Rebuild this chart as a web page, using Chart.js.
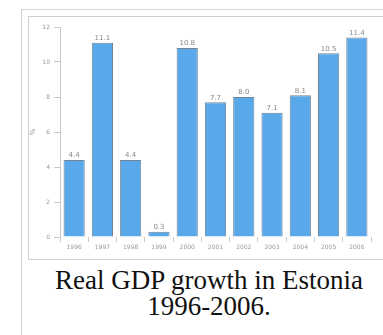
<!DOCTYPE html>
<html>
<head>
<meta charset="utf-8">
<script src="https://cdn.jsdelivr.net/npm/chart.js@4/dist/chart.umd.min.js"></script>
<style>
    html, body { margin: 0; padding: 0; background: #fff; }
    body { width: 383px; height: 335px; position: relative; overflow: hidden; }
    .thumb { position: absolute; left: 21px; top: 9px; width: 400px; height: 400px; border: 1px solid #d4d4d4; box-sizing: border-box; }
    .img { position: absolute; left: 28px; top: 16px; width: 380px; height: 244px; border: 1px solid #cfcfcf; box-sizing: border-box; }
    #gdp { position: absolute; left: 29px; top: 17px; }
    .caption { position: absolute; left: 21px; width: 376px; top: 267px; text-align: center;
        font-family: "Liberation Serif", "Times New Roman", serif; font-size: 27px; line-height: 26px; color: #111; }
</style>
</head>
<body>
<div class="thumb"></div>
<div class="img"></div>
<canvas id="gdp" width="354" height="242"></canvas>
<div class="caption">Real GDP growth in Estonia<br>1996-2006.</div>
<script>
    var years = ['1996', '1997', '1998', '1999', '2000', '2001', '2002', '2003', '2004', '2005', '2006'];
    var growth = [4.4, 11.1, 4.4, 0.3, 10.8, 7.7, 8.0, 7.1, 8.1, 10.5, 11.4];
    var valueLabels = ['4.4', '11.1', '4.4', '0.3', '10.8', '7.7', '8.0', '7.1', '8.1', '10.5', '11.4'];

    var tickColor = '#999';
    var lineColor = '#c8c8c8';

    // small grey numbers above each bar
    var barLabels = {
        id: 'barLabels',
        afterDatasetsDraw: function (chart) {
            var ctx = chart.ctx;
            var meta = chart.getDatasetMeta(0);
            ctx.save();
            ctx.font = '7px "DejaVu Sans", sans-serif';
            ctx.fillStyle = '#888';
            ctx.textAlign = 'center';
            ctx.textBaseline = 'bottom';
            meta.data.forEach(function (bar, i) {
                ctx.fillText(valueLabels[i], bar.x, bar.y - 1);
            });
            ctx.restore();
        }
    };

    new Chart(document.getElementById('gdp').getContext('2d'), {
        type: 'bar',
        data: {
            labels: years,
            datasets: [{
                data: growth,
                backgroundColor: '#58a8ea',
                borderColor: '#6f8597',
                borderWidth: 1,
                barPercentage: 0.75,
                categoryPercentage: 1
            }]
        },
        options: {
            responsive: false,
            animation: false,
            layout: { padding: { top: 10, right: 12, left: 0, bottom: 0 } },
            plugins: { legend: { display: false }, tooltip: { enabled: false } },
            scales: {
                x: {
                    offset: true,
                    grid: { display: true, offset: true, drawOnChartArea: false, drawTicks: true, tickLength: 5, color: lineColor },
                    border: { display: false },
                    ticks: { color: tickColor, font: { size: 6, family: 'DejaVu Sans' }, padding: 2, maxRotation: 0 },
                    afterFit: function (s) { s.height = 22; }
                },
                y: {
                    min: 0,
                    max: 12,
                    ticks: { stepSize: 2, color: tickColor, font: { size: 6, family: 'DejaVu Sans' }, padding: 4 },
                    grid: { display: true, drawOnChartArea: false, drawTicks: true, tickLength: 6, color: lineColor },
                    border: { display: true, color: lineColor },
                    title: { display: true, text: '%', color: tickColor, font: { size: 7, family: 'DejaVu Sans' }, padding: 0 },
                    afterFit: function (s) { s.width = 31; }
                }
            }
        },
        plugins: [barLabels]
    });
</script>
</body>
</html>
